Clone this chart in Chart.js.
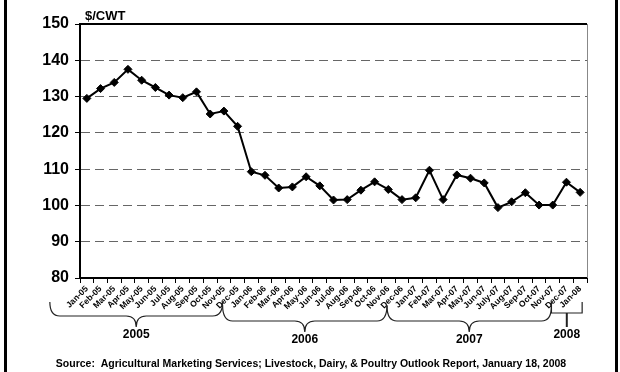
<!DOCTYPE html>
<html>
<head>
<meta charset="utf-8">
<script src="https://cdn.jsdelivr.net/npm/chart.js@4"></script>
<style>
  html, body { margin: 0; padding: 0; background: #fff; }
  #wrap { width: 620px; height: 372px; position: relative; }
</style>
</head>
<body>
<div id="wrap"><canvas id="c" width="620" height="372"></canvas></div>
<script>
// ---- data ----
const months = [
  'Jan-05','Feb-05','Mar-05','Apr-05','May-05','Jun-05','Jul-05','Aug-05','Sep-05','Oct-05','Nov-05','Dec-05',
  'Jan-06','Feb-06','Mar-06','Apr-06','May-06','Jun-06','Jul-06','Aug-06','Sep-06','Oct-06','Nov-06','Dec-06',
  'Jan-07','Feb-07','Mar-07','Apr-07','May-07','Jun-07','July-07','Aug-07','Sep-07','Oct-07','Nov-07','Dec-07',
  'Jan-08'
];
const prices = [
  129.5, 132.2, 133.9, 137.5, 134.5, 132.5, 130.4, 129.7, 131.3, 125.2, 126.0, 121.8,
  109.3, 108.3, 104.8, 105.1, 107.9, 105.4, 101.5, 101.6, 104.2, 106.5, 104.4, 101.6,
  102.1, 109.7, 101.6, 108.4, 107.5, 106.2, 99.4, 101.0, 103.5, 100.1, 100.1, 106.4,
  103.6
];
const years = ['2005', '2006', '2007', '2008'];
const yTicks = [80, 90, 100, 110, 120, 130, 140, 150];
const unitLabel = '$/CWT';
const sourceText = 'Source:  Agricultural Marketing Services; Livestock, Dairy, & Poultry Outlook Report, January 18, 2008';

// ---- styles for year braces (top, horizontal, tip, label y) ----
const braceStyles = [
  { top: 302, h: 316, tip: 327, label: 335, kind: 'curly' },
  { top: 305, h: 321, tip: 332, label: 340, kind: 'curly' },
  { top: 306, h: 321, tip: 332, label: 340, kind: 'curly' },
  { top: 302, h: 313, tip: 327, label: 335, kind: 'square' }
];

const FONT = 'Arial, "Liberation Sans", sans-serif';

const decorPlugin = {
  id: 'decor',
  afterDraw(chart) {
    const ctx = chart.ctx;
    const ca = chart.chartArea;
    const xs = chart.scales.x;
    ctx.save();
    // side bars of the frame
    ctx.fillStyle = '#000';
    ctx.fillRect(4, 0, 3, 372);
    ctx.fillRect(615, 0, 3, 372);
    // top border of plot
    ctx.strokeStyle = '#000';
    ctx.lineWidth = 2;
    ctx.beginPath();
    ctx.moveTo(ca.left, ca.top);
    ctx.lineTo(ca.right, ca.top);
    ctx.stroke();
    // right border of plot
    ctx.strokeStyle = '#888';
    ctx.lineWidth = 1;
    ctx.beginPath();
    ctx.moveTo(ca.right + 0.5, ca.top);
    ctx.lineTo(ca.right + 0.5, ca.bottom);
    ctx.stroke();
    // unit label
    ctx.fillStyle = '#000';
    ctx.font = 'bold 13px ' + FONT;
    ctx.textAlign = 'left';
    ctx.textBaseline = 'alphabetic';
    ctx.fillText(unitLabel, ca.left + 5, ca.top - 4);

    // year braces
    let prevEnd = null;
    years.forEach((yr, gi) => {
      const idxs = months.map((m, i) => [m, i]).filter(p => p[0].slice(-2) === yr.slice(-2)).map(p => p[1]);
      const first = idxs[0], last = idxs[idxs.length - 1];
      const st = braceStyles[gi];
      const x0 = prevEnd === null ? xs.getPixelForValue(first) - 37 : prevEnd;
      const x1 = gi === years.length - 1 ? xs.getPixelForValue(last) + 2 : xs.getPixelForValue(last) - 15;
      prevEnd = x1;
      const mid = (x0 + x1) / 2;
      ctx.strokeStyle = '#222';
      ctx.lineWidth = 1.2;
      if (st.kind === 'curly') {
        const r = 10;
        ctx.beginPath();
        ctx.moveTo(x0, st.top);
        ctx.quadraticCurveTo(x0, st.h, x0 + r, st.h);
        ctx.lineTo(mid - r, st.h);
        ctx.quadraticCurveTo(mid, st.h, mid, st.tip);
        ctx.moveTo(x1, st.top);
        ctx.quadraticCurveTo(x1, st.h, x1 - r, st.h);
        ctx.lineTo(mid + r, st.h);
        ctx.quadraticCurveTo(mid, st.h, mid, st.tip);
        ctx.stroke();
      } else {
        ctx.beginPath();
        ctx.moveTo(x0, st.top);
        ctx.lineTo(x0, st.h);
        ctx.lineTo(x1, st.h);
        ctx.lineTo(x1, st.top);
        ctx.stroke();
        ctx.lineWidth = 2;
        ctx.beginPath();
        ctx.moveTo(mid, st.h);
        ctx.lineTo(mid, st.tip);
        ctx.stroke();
      }
      ctx.fillStyle = '#000';
      ctx.font = 'bold 12px ' + FONT;
      ctx.textAlign = 'center';
      ctx.textBaseline = 'middle';
      ctx.fillText(yr, mid, st.label);
    });

    // source
    ctx.font = 'bold 10.5px ' + FONT;
    ctx.textAlign = 'center';
    ctx.textBaseline = 'middle';
    ctx.fillText(sourceText, 311, 364);
    ctx.restore();
  }
};

new Chart(document.getElementById('c'), {
  type: 'line',
  data: {
    labels: months,
    datasets: [{
      data: prices,
      borderColor: '#000',
      borderWidth: 2,
      backgroundColor: '#000',
      pointStyle: 'rectRot',
      pointRadius: 4,
      pointBackgroundColor: '#000',
      pointBorderColor: '#000',
      pointBorderWidth: 1,
      tension: 0,
      fill: false
    }]
  },
  options: {
    responsive: false,
    animation: false,
    devicePixelRatio: 1,
    layout: { padding: { left: 0, right: 33, top: 24, bottom: 0 } },
    plugins: { legend: { display: false }, tooltip: { enabled: false }, title: { display: false } },
    scales: {
      x: {
        type: 'category',
        offset: true,
        grid: { display: true, drawOnChartArea: false, drawTicks: true, tickLength: 5, tickColor: '#000', offset: true },
        border: { display: true, color: '#000', width: 2 },
        ticks: {
          autoSkip: false, maxRotation: 45, minRotation: 45, padding: 1,
          color: '#000', font: { family: FONT, size: 8.5, weight: 'bold' }
        },
        afterFit(s) { s.height = 94; }
      },
      y: {
        min: 80, max: 150,
        afterBuildTicks(s) { s.ticks = yTicks.map(v => ({ value: v })); },
        grid: {
          drawTicks: true, tickLength: 5, tickColor: '#000', tickWidth: 1,
          color: (c) => (c.tick && (c.tick.value === 80 || c.tick.value === 150)) ? 'rgba(0,0,0,0)' : '#666',
          lineWidth: 1
        },
        border: { display: true, color: '#000', width: 2, dash: [9, 5] },
        ticks: { color: '#000', padding: 6, font: { family: FONT, size: 16, weight: 'bold' } },
        afterFit(s) { s.width = 80; }
      }
    }
  },
  plugins: [decorPlugin]
});
</script>
</body>
</html>
